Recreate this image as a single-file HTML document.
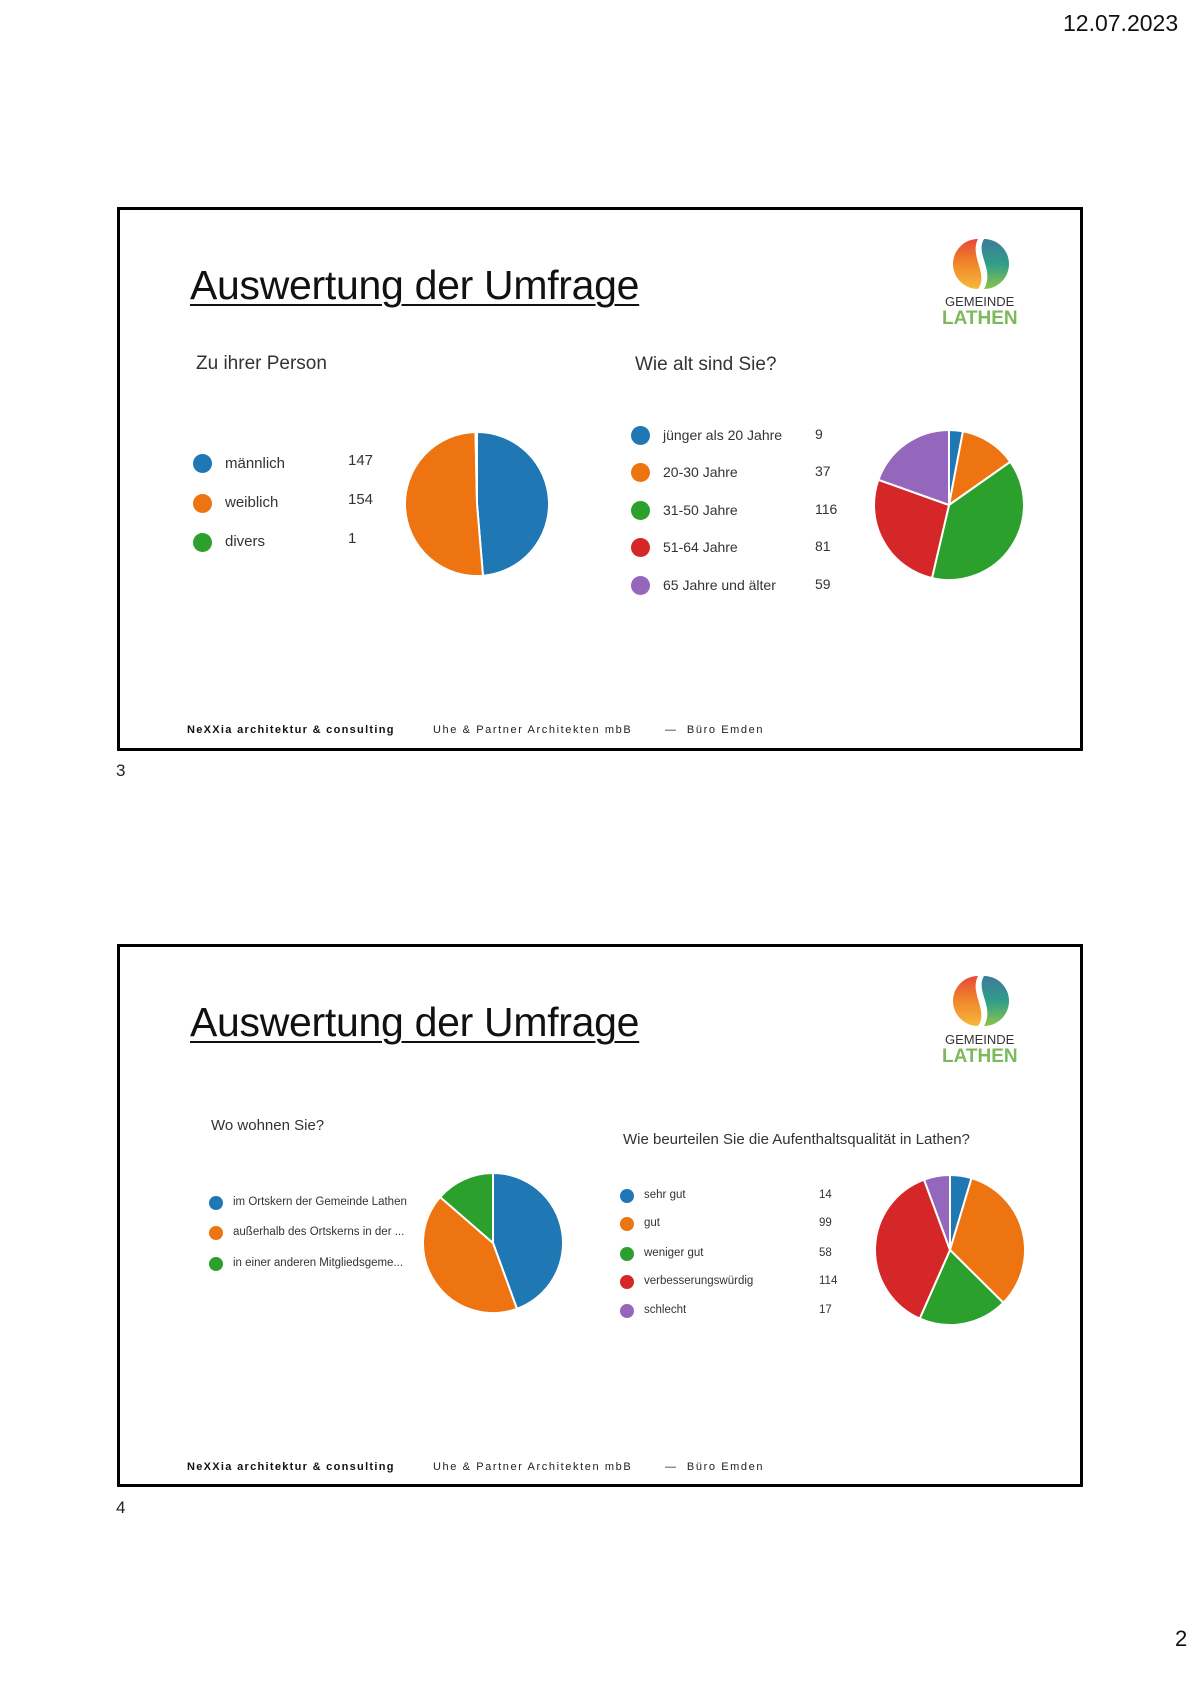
<!DOCTYPE html>
<html><head><meta charset="utf-8">
<style>
body{margin:0;width:1200px;height:1689px;background:#fff;position:relative;font-family:"Liberation Sans",sans-serif;overflow:hidden}
.a{position:absolute;white-space:nowrap;line-height:1}
.slide{position:absolute;left:117px;width:966px;border:3px solid #000;box-sizing:border-box}
.title{font-size:41px;color:#111;text-decoration:underline;text-decoration-thickness:2px;text-underline-offset:5px;letter-spacing:-0.3px}
.f1{font-weight:bold;font-size:11px;letter-spacing:1.3px;color:#111}
.f2{font-size:11px;letter-spacing:1.6px;color:#222}
.dot{position:absolute;border-radius:50%}
.lg{color:#333}
</style></head><body>
<div class="a" style="left:1063px;top:12px;font-size:23px;color:#111">12.07.2023</div>

<div class="slide" style="top:207px;height:544px"></div>
<div class="slide" style="top:944px;height:543px"></div>

<div class="a title" style="left:190px;top:265px">Auswertung der Umfrage</div>
<div class="a title" style="left:190px;top:1002px">Auswertung der Umfrage</div>

<svg class="a" style="left:0;top:0" width="1200" height="1689" id="svg">
<defs>
<linearGradient id="gl" x1="0" y1="0" x2="0" y2="1"><stop offset="0" stop-color="#e8473a"/><stop offset="0.5" stop-color="#f0882a"/><stop offset="1" stop-color="#f6b93a"/></linearGradient>
<linearGradient id="gr" x1="0" y1="0" x2="0" y2="1"><stop offset="0" stop-color="#3f7a9a"/><stop offset="0.5" stop-color="#2f9e8a"/><stop offset="1" stop-color="#8bc34a"/></linearGradient>
</defs>
</svg>

<!-- logos -->
<div class="a" style="left:945px;top:295px;font-size:13px;color:#333">GEMEINDE</div>
<div class="a" style="left:942px;top:309px;font-size:19px;font-weight:bold;color:#7cb95a">LATHEN</div>
<div class="a" style="left:945px;top:1033px;font-size:13px;color:#333">GEMEINDE</div>
<div class="a" style="left:942px;top:1047px;font-size:19px;font-weight:bold;color:#7cb95a">LATHEN</div>

<!-- slide 1 -->
<div class="a" style="left:196px;top:354px;font-size:19px;color:#333">Zu ihrer Person</div>
<div class="dot" style="left:193px;top:454px;width:19px;height:19px;background:#1f77b4"></div>
<div class="dot" style="left:193px;top:494px;width:19px;height:19px;background:#ed7410"></div>
<div class="dot" style="left:193px;top:533px;width:19px;height:19px;background:#2ca02c"></div>
<div class="a lg" style="left:225px;top:456px;font-size:15px">männlich</div>
<div class="a lg" style="left:225px;top:495px;font-size:15px">weiblich</div>
<div class="a lg" style="left:225px;top:534px;font-size:15px">divers</div>
<div class="a lg" style="left:348px;top:453px;font-size:15px">147</div>
<div class="a lg" style="left:348px;top:492px;font-size:15px">154</div>
<div class="a lg" style="left:348px;top:531px;font-size:15px">1</div>

<div class="a" style="left:635px;top:355px;font-size:19px;color:#333">Wie alt sind Sie?</div>
<div class="dot" style="left:631px;top:426px;width:19px;height:19px;background:#1f77b4"></div>
<div class="dot" style="left:631px;top:463px;width:19px;height:19px;background:#ed7410"></div>
<div class="dot" style="left:631px;top:501px;width:19px;height:19px;background:#2ca02c"></div>
<div class="dot" style="left:631px;top:538px;width:19px;height:19px;background:#d62728"></div>
<div class="dot" style="left:631px;top:576px;width:19px;height:19px;background:#9467bd"></div>
<div class="a lg" style="left:663px;top:428px;font-size:14px">jünger als 20 Jahre</div>
<div class="a lg" style="left:663px;top:465px;font-size:14px">20-30 Jahre</div>
<div class="a lg" style="left:663px;top:503px;font-size:14px">31-50 Jahre</div>
<div class="a lg" style="left:663px;top:540px;font-size:14px">51-64 Jahre</div>
<div class="a lg" style="left:663px;top:578px;font-size:14px">65 Jahre und älter</div>
<div class="a lg" style="left:815px;top:427px;font-size:14px">9</div>
<div class="a lg" style="left:815px;top:464px;font-size:14px">37</div>
<div class="a lg" style="left:815px;top:502px;font-size:14px">116</div>
<div class="a lg" style="left:815px;top:539px;font-size:14px">81</div>
<div class="a lg" style="left:815px;top:577px;font-size:14px">59</div>

<!-- slide 2 -->
<div class="a" style="left:211px;top:1118px;font-size:15px;color:#333">Wo wohnen Sie?</div>
<div class="dot" style="left:209px;top:1196px;width:14px;height:14px;background:#1f77b4"></div>
<div class="dot" style="left:209px;top:1226px;width:14px;height:14px;background:#ed7410"></div>
<div class="dot" style="left:209px;top:1257px;width:14px;height:14px;background:#2ca02c"></div>
<div class="a lg" style="left:233px;top:1197px;font-size:11.5px">im Ortskern der Gemeinde Lathen</div>
<div class="a lg" style="left:233px;top:1227px;font-size:11.5px">außerhalb des Ortskerns in der ...</div>
<div class="a lg" style="left:233px;top:1258px;font-size:11.5px">in einer anderen Mitgliedsgeme...</div>

<div class="a" style="left:623px;top:1132px;font-size:15px;color:#333">Wie beurteilen Sie die Aufenthaltsqualität in Lathen?</div>
<div class="dot" style="left:620px;top:1189px;width:14px;height:14px;background:#1f77b4"></div>
<div class="dot" style="left:620px;top:1217px;width:14px;height:14px;background:#ed7410"></div>
<div class="dot" style="left:620px;top:1247px;width:14px;height:14px;background:#2ca02c"></div>
<div class="dot" style="left:620px;top:1275px;width:14px;height:14px;background:#d62728"></div>
<div class="dot" style="left:620px;top:1304px;width:14px;height:14px;background:#9467bd"></div>
<div class="a lg" style="left:644px;top:1190px;font-size:11.5px">sehr gut</div>
<div class="a lg" style="left:644px;top:1218px;font-size:11.5px">gut</div>
<div class="a lg" style="left:644px;top:1248px;font-size:11.5px">weniger gut</div>
<div class="a lg" style="left:644px;top:1276px;font-size:11.5px">verbesserungswürdig</div>
<div class="a lg" style="left:644px;top:1305px;font-size:11.5px">schlecht</div>
<div class="a lg" style="left:819px;top:1190px;font-size:11.5px">14</div>
<div class="a lg" style="left:819px;top:1218px;font-size:11.5px">99</div>
<div class="a lg" style="left:819px;top:1248px;font-size:11.5px">58</div>
<div class="a lg" style="left:819px;top:1276px;font-size:11.5px">114</div>
<div class="a lg" style="left:819px;top:1305px;font-size:11.5px">17</div>

<!-- footers -->
<div class="a f1" style="left:187px;top:725px">NeXXia architektur &amp; consulting</div>
<div class="a f2" style="left:433px;top:725px">Uhe &amp; Partner Architekten mbB</div>
<div class="a f2" style="left:665px;top:725px">—&nbsp; Büro Emden</div>
<div class="a f1" style="left:187px;top:1462px">NeXXia architektur &amp; consulting</div>
<div class="a f2" style="left:433px;top:1462px">Uhe &amp; Partner Architekten mbB</div>
<div class="a f2" style="left:665px;top:1462px">—&nbsp; Büro Emden</div>

<div class="a" style="left:116px;top:762px;font-size:17px;color:#222">3</div>
<div class="a" style="left:116px;top:1499px;font-size:17px;color:#222">4</div>
<div class="a" style="left:1175px;top:1628px;font-size:22px;color:#111">2</div>

<script>
var s=document.getElementById('svg'),NS='http://www.w3.org/2000/svg';
var C=['#1f77b4','#ed7410','#2ca02c','#d62728','#9467bd'];
function pie(cx,cy,r,vals,startDeg,degs){
  var tot=vals?vals.reduce(function(a,b){return a+b},0):360;
  var a=startDeg;
  var arr=degs||vals.map(function(v){return v/tot*360});
  arr.forEach(function(d,i){
    var a0=(a-90)*Math.PI/180,a1=(a+d-90)*Math.PI/180;
    var x0=cx+r*Math.cos(a0),y0=cy+r*Math.sin(a0),x1=cx+r*Math.cos(a1),y1=cy+r*Math.sin(a1);
    var p=document.createElementNS(NS,'path');
    p.setAttribute('d','M'+cx+','+cy+'L'+x0+','+y0+'A'+r+','+r+' 0 '+(d>180?1:0)+' 1 '+x1+','+y1+'Z');
    p.setAttribute('fill',C[i]);p.setAttribute('stroke','#fff');p.setAttribute('stroke-width','2');
    s.appendChild(p);a+=d;
  });
}
pie(477,504,72,[147,154,1],0);
pie(949,505,75,[9,37,116,81,59],0);
pie(493,1243,70,null,0,[160,151,49]);
pie(950,1250,75,[14,99,58,114,17],0);
function logo(cx,cy){
  var l=document.createElementNS(NS,'path');
  l.setAttribute('d','M'+(cx-3)+','+(cy-25)+'A25,25 0 0 0 '+(cx-3)+','+(cy+25)+'C'+(cx+8)+','+(cy+10)+' '+(cx-12)+','+(cy-8)+' '+(cx-3)+','+(cy-25)+'Z');
  l.setAttribute('fill','url(#gl)');s.appendChild(l);
  var r=document.createElementNS(NS,'path');
  r.setAttribute('d','M'+(cx+3)+','+(cy-25)+'A25,25 0 0 1 '+(cx+3)+','+(cy+25)+'C'+(cx+14)+','+(cy+6)+' '+(cx-6)+','+(cy-10)+' '+(cx+3)+','+(cy-25)+'Z');
  r.setAttribute('fill','url(#gr)');s.appendChild(r);
}
logo(981,264);logo(981,1001);
</script>
</body></html>
